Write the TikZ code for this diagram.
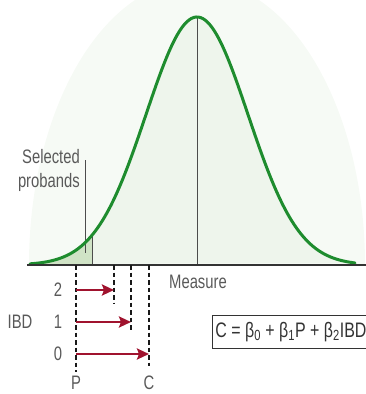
\documentclass[tikz,border=0pt]{standalone}
\usepackage{fontspec}
\setmainfont{Liberation Sans}
\newfontfamily\narrowsans[FakeStretch=0.76]{Liberation Sans}
\usetikzlibrary{arrows.meta, positioning}
\definecolor{curvegreen}{HTML}{1E8C2E}
\definecolor{glowgreen}{HTML}{F6FAF5}
\definecolor{undergreen}{HTML}{EEF5EC}
\definecolor{tailgreen}{HTML}{D0E3C6}
\definecolor{ibdred}{HTML}{A0132E}
\definecolor{labelgrey}{HTML}{595959}
\tikzset{
  axis/.style={line width=1.3pt, color=black!80},
  guide/.style={line width=1pt, color=black!70},
  dashguide/.style={line width=1.1pt, dash pattern=on 4.5pt off 3pt, color=black!90},
  ibdarrow/.style={-{Stealth[length=12pt, width=11pt, inset=2pt]}, line width=2.4pt, color=ibdred},
  every node/.append style={font=\narrowsans\fontsize{19.5}{24}\selectfont, text=labelgrey, inner sep=0pt}
}
\newcommand{\gauss}[1]{265-248*exp(-((#1-197)/51)*((#1-197)/51)/2)}

\begin{document}
\begin{tikzpicture}[x=1pt, y=-1pt]
\useasboundingbox (0,0) rectangle (366,394);
% faint glow behind the curve
\begin{scope}
\clip (0,0) rectangle (366,265);
\fill[glowgreen] (197,265) ellipse (168 and 285);
\end{scope}
\fill[undergreen] plot[domain=30:355, samples=140, smooth] (\x, {\gauss{\x}}) -- cycle;
% selected tail
\fill[tailgreen] (30,265) -- plot[domain=30:92.7, samples=40] (\x, {\gauss{\x}}) -- (92.7,265) -- cycle;
\draw[guide] (92.7,265) -- (92.7,{\gauss{92.7}});
\draw[guide] (197,265) -- (197,{\gauss{197}});
\draw[guide] (85,160) -- (85,253);
\draw[curvegreen, line width=3pt, line cap=round] plot[domain=30:355, samples=140, smooth] (\x, {\gauss{\x}});
\draw[axis] (27,265) -- (366,265);

\node[align=right, anchor=east] (sel) at (80,170) {Selected\\probands};
\node (measure) at (198,282) {Measure};

% P and C positions
\coordinate (p0) at (76,265);
\coordinate (p1) at (76,372);
\coordinate (t2) at (114,265);
\coordinate (t1) at (131,265);
\coordinate (t0) at (149,265);
\coordinate (e2) at (114,304);
\coordinate (e1) at (131,331);
\coordinate (e0) at (149,366);
\draw[dashguide] (p0) -- (p1);
\draw[dashguide] (t2) -- (e2);
\draw[dashguide] (t1) -- (e1);
\draw[dashguide] (t0) -- (e0);

\node (lvl2) at (58,290) {2};
\node (lvl1) at (58,322) {1};
\node (lvl0) at (58,354) {0};
\node (ibd) at (20,322) {IBD};
\node (plabel) at (76,383) {P};
\node (clabel) at (149,383) {C};

\coordinate (s2) at (76,290);
\coordinate (s1) at (76,322);
\coordinate (s0) at (76,354);
\coordinate (h2) at (114,290);
\coordinate (h1) at (131,322);
\coordinate (h0) at (149,354);
\draw[ibdarrow] (s2) -- (h2);
\draw[ibdarrow] (s1) -- (h1);
\draw[ibdarrow] (s0) -- (h0);

\node[draw=black!80, line width=0.8pt, anchor=west, minimum height=33pt, inner sep=3pt, text=black!80,
  text width=165pt, align=flush left, font=\narrowsans\fontsize{21}{24}\selectfont] (eqn) at (212,332)
  {\mbox{C = β\textsubscript{0} + β\textsubscript{1}P + β\textsubscript{2}IBD}};
\end{tikzpicture}
\end{document}
